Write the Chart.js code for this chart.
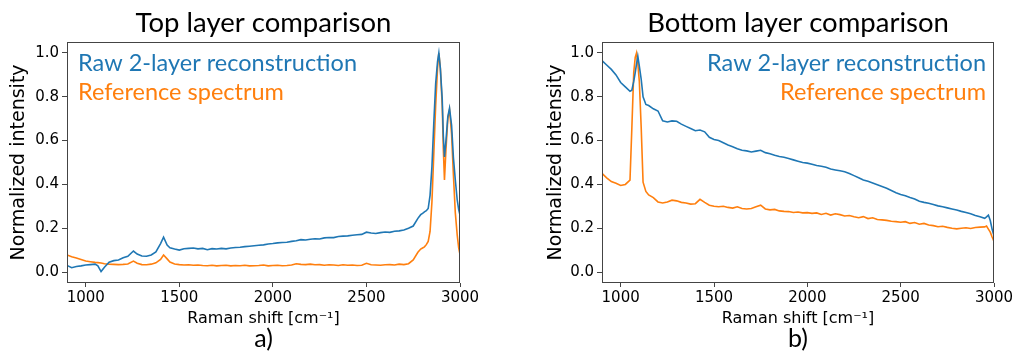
<!DOCTYPE html>
<html>
<head>
<meta charset="utf-8">
<script src="https://cdn.jsdelivr.net/npm/chart.js@4.4.1/dist/chart.umd.min.js"></script>
<style>
  body { margin: 0; background: #fff; }
  #wrap { position: relative; width: 1016px; height: 353px; }
  canvas { position: absolute; top: 0; }
</style>
</head>
<body>
<div id="wrap">
  <canvas id="topChart" width="508" height="353" style="left:0"></canvas>
  <canvas id="bottomChart" width="508" height="353" style="left:508px"></canvas>
</div>
<script>
// tick positions shared by both panels
const xTicks = [1000, 1500, 2000, 2500, 3000];
const yTicks = [0.0, 0.2, 0.4, 0.6, 0.8, 1.0];

// panel a) top layer
const topShift = [
  900, 925, 950, 975, 1000, 1025, 1050, 1065, 1082, 1100,
  1125, 1150, 1175, 1200, 1225, 1255, 1275, 1300, 1325, 1350,
  1375, 1400, 1416, 1435, 1450, 1475, 1500, 1525, 1550, 1575,
  1600, 1625, 1650, 1675, 1700, 1725, 1750, 1775, 1800, 1825,
  1850, 1875, 1900, 1925, 1950, 1975, 2000, 2025, 2050, 2075,
  2100, 2125, 2150, 2175, 2200, 2225, 2250, 2275, 2300, 2325,
  2350, 2375, 2400, 2425, 2450, 2475, 2500, 2525, 2550, 2575,
  2600, 2625, 2650, 2675, 2700, 2725, 2750, 2775, 2790, 2800,
  2810, 2820, 2830, 2840, 2850, 2860, 2870, 2880, 2887, 2895,
  2905, 2911, 2917, 2925, 2935, 2944, 2955, 2965, 2975, 2985,
  2993, 3000
];
const topRaw = [
  0.030, 0.020, 0.025, 0.028, 0.032, 0.034, 0.036, 0.028, 0.002, 0.022,
  0.045, 0.052, 0.055, 0.065, 0.072, 0.096, 0.082, 0.073, 0.072, 0.078,
  0.092, 0.130, 0.159, 0.123, 0.111, 0.105, 0.100, 0.106, 0.108, 0.110,
  0.106, 0.108, 0.102, 0.107, 0.105, 0.108, 0.106, 0.110, 0.112, 0.113,
  0.116, 0.118, 0.120, 0.122, 0.124, 0.128, 0.130, 0.133, 0.135, 0.136,
  0.140, 0.143, 0.148, 0.146, 0.150, 0.152, 0.151, 0.156, 0.158, 0.157,
  0.162, 0.164, 0.165, 0.168, 0.170, 0.172, 0.182, 0.178, 0.176, 0.180,
  0.183, 0.181, 0.186, 0.188, 0.192, 0.200, 0.210, 0.245, 0.262, 0.268,
  0.275, 0.280, 0.290, 0.350, 0.480, 0.680, 0.860, 0.960, 1.000, 0.930,
  0.790, 0.620, 0.525, 0.600, 0.710, 0.748, 0.670, 0.520, 0.420, 0.330,
  0.285, 0.260
];
const topRef = [
  0.078, 0.070, 0.064, 0.057, 0.050, 0.047, 0.044, 0.043, 0.041, 0.038,
  0.036, 0.035, 0.034, 0.035, 0.037, 0.050, 0.040, 0.034, 0.033, 0.036,
  0.042, 0.058, 0.078, 0.060, 0.046, 0.037, 0.034, 0.032, 0.033, 0.031,
  0.032, 0.030, 0.029, 0.031, 0.028, 0.030, 0.031, 0.028, 0.030, 0.029,
  0.031, 0.028, 0.029, 0.030, 0.032, 0.028, 0.030, 0.031, 0.029, 0.030,
  0.032, 0.038, 0.035, 0.034, 0.036, 0.033, 0.034, 0.031, 0.033, 0.032,
  0.030, 0.033, 0.031, 0.032, 0.030, 0.031, 0.040, 0.033, 0.032, 0.031,
  0.033, 0.034, 0.032, 0.036, 0.034, 0.038, 0.055, 0.090, 0.105, 0.110,
  0.115, 0.125, 0.140, 0.185, 0.320, 0.540, 0.760, 0.930, 1.000, 0.930,
  0.760, 0.560, 0.420, 0.560, 0.700, 0.740, 0.630, 0.440, 0.270, 0.170,
  0.110, 0.080
];

// panel b) bottom layer
const bottomShift = [
  900, 925, 950, 975, 1000, 1025, 1050, 1060, 1070, 1078,
  1085, 1092, 1100, 1110, 1120, 1135, 1150, 1175, 1200, 1225,
  1250, 1275, 1300, 1325, 1350, 1375, 1400, 1425, 1450, 1475,
  1500, 1525, 1550, 1575, 1600, 1625, 1650, 1675, 1700, 1725,
  1750, 1775, 1800, 1825, 1850, 1875, 1900, 1925, 1950, 1975,
  2000, 2025, 2050, 2075, 2100, 2125, 2150, 2175, 2200, 2225,
  2250, 2275, 2300, 2325, 2350, 2375, 2400, 2425, 2450, 2475,
  2500, 2525, 2550, 2575, 2600, 2625, 2650, 2675, 2700, 2725,
  2750, 2775, 2800, 2825, 2850, 2875, 2900, 2925, 2950, 2960,
  2970, 2980, 2990, 3000
];
const bottomRaw = [
  0.965, 0.945, 0.925, 0.900, 0.865, 0.845, 0.825, 0.830, 0.870, 0.910,
  0.950, 0.985, 0.940, 0.880, 0.800, 0.765, 0.760, 0.745, 0.735, 0.690,
  0.685, 0.690, 0.688, 0.675, 0.665, 0.655, 0.645, 0.648, 0.640, 0.615,
  0.605, 0.600, 0.590, 0.580, 0.572, 0.563, 0.556, 0.553, 0.548, 0.552,
  0.556, 0.545, 0.540, 0.533, 0.527, 0.524, 0.518, 0.512, 0.506, 0.500,
  0.497, 0.492, 0.486, 0.483, 0.478, 0.470, 0.466, 0.462, 0.458, 0.450,
  0.440, 0.430, 0.420, 0.414, 0.406, 0.398, 0.390, 0.382, 0.372, 0.362,
  0.354, 0.348, 0.340, 0.333, 0.323, 0.318, 0.314, 0.308, 0.302, 0.298,
  0.293, 0.288, 0.283, 0.277, 0.272, 0.266, 0.258, 0.252, 0.245, 0.252,
  0.260, 0.235, 0.195, 0.165
];
const bottomRef = [
  0.450, 0.430, 0.413, 0.405, 0.395, 0.400, 0.420, 0.660, 0.910, 0.980,
  1.000, 0.950, 0.870, 0.660, 0.410, 0.368, 0.352, 0.340, 0.320, 0.315,
  0.320, 0.328, 0.325, 0.318, 0.315, 0.310, 0.312, 0.332, 0.318, 0.305,
  0.300, 0.298, 0.300, 0.295, 0.292, 0.298, 0.290, 0.288, 0.290, 0.298,
  0.305, 0.288, 0.284, 0.286, 0.279, 0.277, 0.276, 0.272, 0.274, 0.270,
  0.271, 0.268, 0.270, 0.263, 0.268, 0.260, 0.266, 0.262, 0.256, 0.258,
  0.252, 0.248, 0.253, 0.244, 0.248, 0.240, 0.238, 0.236, 0.232, 0.230,
  0.227, 0.230, 0.222, 0.226, 0.218, 0.222, 0.215, 0.212, 0.207, 0.209,
  0.204, 0.200, 0.197, 0.200, 0.202, 0.199, 0.203, 0.205, 0.206, 0.210,
  0.196, 0.182, 0.160, 0.140
];

const blue = "#1f77b4";
const orange = "#ff7f0e";
const tickFont = { family: "DejaVu Sans", size: 15 };

// frame, panel title, in-plot legend text and the a)/b) tag
const panelDecor = {
  id: "panelDecor",
  afterDraw(chart, args, opts) {
    const { ctx, chartArea: a } = chart;
    const cx = (a.left + a.right) / 2;
    ctx.save();
    ctx.strokeStyle = "#444";
    ctx.lineWidth = 1;
    ctx.strokeRect(a.left + 0.5, a.top + 0.5, a.right - a.left - 1, a.bottom - a.top - 1);

    ctx.fillStyle = "#000";
    ctx.textAlign = "center";
    ctx.textBaseline = "middle";
    ctx.font = "27.5px Lato";
    ctx.fillText(opts.title, cx, 23);
    ctx.font = "25px Lato";
    ctx.fillText(opts.tag, cx, 339);

    ctx.font = "23.5px Lato";
    ctx.textBaseline = "alphabetic";
    ctx.textAlign = opts.legendAlign;
    const lx = opts.legendAlign === "left" ? a.left + 11 : a.right - 8;
    ctx.fillStyle = blue;
    ctx.fillText("Raw 2-layer reconstruction", lx, 71);
    ctx.fillStyle = orange;
    ctx.fillText("Reference spectrum", lx, 99.5);
    ctx.restore();
  },
};

function toPoints(xs, ys) {
  return xs.map((x, i) => ({ x: x, y: ys[i] }));
}

function makePanel(canvasId, shift, raw, ref, decor, padding, axisWidth) {
  return new Chart(document.getElementById(canvasId), {
    type: "line",
    data: {
      datasets: [
        { label: "Raw 2-layer reconstruction", data: toPoints(shift, raw), borderColor: blue },
        { label: "Reference spectrum", data: toPoints(shift, ref), borderColor: orange },
      ],
    },
    options: {
      responsive: false,
      animation: false,
      devicePixelRatio: 1,
      layout: { padding: padding },
      elements: {
        point: { radius: 0 },
        line: { borderWidth: 1.6, tension: 0, fill: false },
      },
      plugins: {
        legend: { display: false },
        tooltip: { enabled: false },
        panelDecor: decor,
      },
      scales: {
        x: {
          type: "linear",
          min: 900,
          max: 3000,
          afterBuildTicks: (s) => { s.ticks = xTicks.map((v) => ({ value: v })); },
          afterFit: (s) => { s.height = 70; },
          ticks: { font: tickFont, color: "#000", padding: 2, maxRotation: 0, autoSkip: false, callback: (v) => String(v) },
          grid: { drawOnChartArea: false, drawTicks: true, tickLength: 4, color: "#444" },
          border: { display: false },
          title: {
            display: true,
            text: "Raman shift [cm⁻¹]",
            font: { family: "DejaVu Sans", size: 16 },
            color: "#000",
            padding: { top: 0, bottom: 25 },
          },
        },
        y: {
          min: -0.05,
          max: 1.05,
          afterBuildTicks: (s) => { s.ticks = yTicks.map((v) => ({ value: v })); },
          afterFit: (s) => { s.width = axisWidth; },
          ticks: { font: tickFont, color: "#000", padding: 3, callback: (v) => v.toFixed(1) },
          grid: { drawOnChartArea: false, drawTicks: true, tickLength: 5, color: "#444" },
          border: { display: false },
          title: {
            display: true,
            text: "Normalized intensity",
            font: { family: "DejaVu Sans", size: 19 },
            color: "#000",
            padding: { top: 8, bottom: 0 },
          },
        },
      },
    },
    plugins: [panelDecor],
  });
}

makePanel("topChart", topShift, topRaw, topRef,
  { title: "Top layer comparison", tag: "a)", legendAlign: "left" },
  { top: 42, left: 0, right: 48, bottom: 0 }, 67);

makePanel("bottomChart", bottomShift, bottomRaw, bottomRef,
  { title: "Bottom layer comparison", tag: "b)", legendAlign: "right" },
  { top: 42, left: 29, right: 22, bottom: 0 }, 65);
</script>
</body>
</html>
